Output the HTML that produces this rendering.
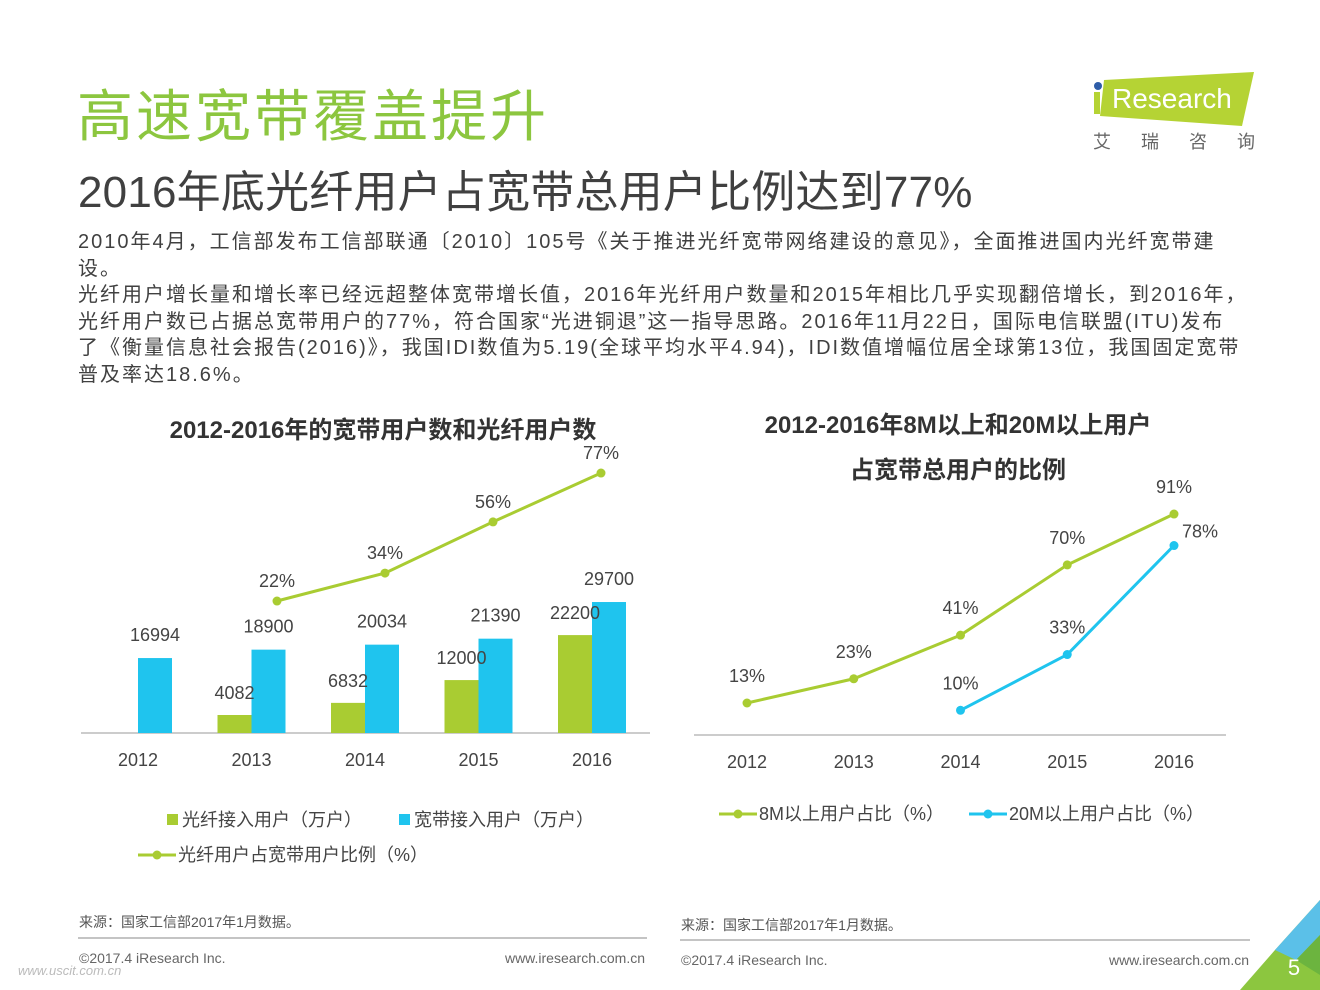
<!DOCTYPE html>
<html><head><meta charset="utf-8"><style>
body{margin:0;width:1320px;height:990px;background:#fff;overflow:hidden;font-family:"Liberation Sans","Noto Sans CJK SC",sans-serif;position:relative}
.a{position:absolute;white-space:nowrap}
</style></head><body>
<div class="a" style="left:77px;top:72px;font-size:56px;color:#8cc63f;letter-spacing:3px">高速宽带覆盖提升</div>
<div class="a" style="left:78px;top:156px;font-size:44px;color:#404040;letter-spacing:0.2px">2016年底光纤用户占宽带总用户比例达到77%</div>
<div class="a" style="left:78px;top:229px;font-size:20px;line-height:26.5px;color:#404040;letter-spacing:2px">2010年4月，工信部发布工信部联通〔2010〕105号《关于推进光纤宽带网络建设的意见》，全面推进国内光纤宽带建<br>设。<br>光纤用户增长量和增长率已经远超整体宽带增长值，2016年光纤用户数量和2015年相比几乎实现翻倍增长，到2016年，<br>光纤用户数已占据总宽带用户的77%，符合国家“光进铜退”这一指导思路。2016年11月22日，国际电信联盟(ITU)发布<br>了《衡量信息社会报告(2016)》，我国IDI数值为5.19(全球平均水平4.94)，IDI数值增幅位居全球第13位，我国固定宽带<br>普及率达18.6%。</div>
<div class="a" style="left:1092px;top:70px;width:162px;height:56px">
<svg width="162" height="56"><polygon points="12,10 162,2 150,56 8,46" fill="#b5d334"/><circle cx="6" cy="16" r="4" fill="#2e5da8"/><rect x="2" y="22" width="6" height="22" fill="#b5d334"/><text x="20" y="38" font-size="28" fill="#fff" font-family="Liberation Sans">Research</text></svg></div>
<div class="a" style="left:1093px;top:128px;font-size:18px;color:#666;letter-spacing:30px">艾瑞咨询</div>
<svg class="a" style="left:0;top:0" width="1320" height="990" id="sv">
<text x="383" y="438" font-size="24" font-weight="bold" fill="#333" text-anchor="middle">2012-2016年的宽带用户数和光纤用户数</text>
<text x="958" y="433" font-size="24" font-weight="bold" fill="#333" text-anchor="middle">2012-2016年8M以上和20M以上用户</text>
<text x="958" y="478" font-size="24" font-weight="bold" fill="#333" text-anchor="middle">占宽带总用户的比例</text>
<line x1="81" y1="733" x2="650" y2="733" stroke="#999"/>
<line x1="694" y1="735" x2="1226" y2="735" stroke="#999"/>
<rect x="167" y="814" width="11" height="11" fill="#a9cc32"/>
<text x="182" y="826" font-size="18" fill="#444">光纤接入用户（万户）</text>
<rect x="399" y="814" width="11" height="11" fill="#1fc4ee"/>
<text x="414" y="826" font-size="18" fill="#444">宽带接入用户（万户）</text>
<line x1="138" y1="855" x2="176" y2="855" stroke="#a9cc32" stroke-width="3"/><circle cx="157" cy="855" r="4.5" fill="#a9cc32"/>
<text x="178" y="861" font-size="18" fill="#444">光纤用户占宽带用户比例（%）</text>
<line x1="719" y1="814" x2="757" y2="814" stroke="#a9cc32" stroke-width="3"/><circle cx="738" cy="814" r="4.5" fill="#a9cc32"/>
<text x="759" y="820" font-size="18" fill="#444">8M以上用户占比（%）</text>
<line x1="969" y1="814" x2="1007" y2="814" stroke="#1fc4ee" stroke-width="3"/><circle cx="988" cy="814" r="4.5" fill="#1fc4ee"/>
<text x="1009" y="820" font-size="18" fill="#444">20M以上用户占比（%）</text>
<text x="79" y="927" font-size="14" fill="#555">来源：国家工信部2017年1月数据。</text>
<text x="681" y="930" font-size="14" fill="#555">来源：国家工信部2017年1月数据。</text>
<line x1="78" y1="938" x2="647" y2="938" stroke="#888"/>
<line x1="680" y1="940" x2="1250" y2="940" stroke="#888"/>
<text x="79" y="963" font-size="14" fill="#666">©2017.4 iResearch Inc.</text>
<text x="645" y="963" font-size="14" fill="#666" text-anchor="end">www.iresearch.com.cn</text>
<text x="681" y="965" font-size="14" fill="#666">©2017.4 iResearch Inc.</text>
<text x="1249" y="965" font-size="14" fill="#666" text-anchor="end">www.iresearch.com.cn</text>
<text x="18" y="975" font-size="13" fill="#bbb" font-style="italic">www.uscit.com.cn</text>
<polygon points="1320,900 1320,990 1240,990 1275,950" fill="#8cc63f"/>
<polygon points="1320,900 1275,950 1296,960 1320,935" fill="#5bc0e8"/>
<polygon points="1320,935 1296,960 1320,975" fill="#6cb43f"/>
<text x="1294" y="975" font-size="22" fill="#fff" text-anchor="middle">5</text>
</svg>
<script>
const years=["2012","2013","2014","2015","2016"];
const fiber=[null,4082,6832,12000,22200];
const broadband=[16994,18900,20034,21390,29700];
const fiberRatio=[null,22,34,56,77];
const m8=[13,23,41,70,91];
const m20=[null,null,10,33,78];
const sv=document.getElementById('sv');const NS='http://www.w3.org/2000/svg';
function mk(t,a,txt){const e=document.createElementNS(NS,t);for(const k in a)e.setAttribute(k,a[k]);if(txt!=null)e.textContent=txt;sv.appendChild(e);return e;}
const lx=i=>138+i*113.5, ly=v=>733-v*0.00441;
const lpx=i=>277+(i-1)*108, lpy=p=>652.2-p*2.327;
const rx=i=>747+i*106.75, ry=p=>734.5-p*2.423;
years.forEach((y,i)=>{
 let t=mk('text',{x:lx(i),y:766,'font-size':18,fill:'#444','text-anchor':'middle'},y);
 
 
 t=mk('text',{x:rx(i),y:768,'font-size':18,fill:'#444','text-anchor':'middle'},y);
 
 
 if(fiber[i]!=null){
  let r=mk('rect',{x:lx(i)-34,y:ly(fiber[i]),width:34,height:733-ly(fiber[i]),fill:'#a9cc32'});
  
  
 }
 let r=mk('rect',{x:lx(i),y:ly(broadband[i]),width:34,height:733-ly(broadband[i]),fill:'#1fc4ee'});
 
 
});
years.forEach((y,i)=>{
 if(fiber[i]!=null){let t=mk('text',{x:lx(i)-17,y:ly(fiber[i])-16,'font-size':18,fill:'#444','text-anchor':'middle'},fiber[i]);
 
 }
 let t=mk('text',{x:lx(i)+17,y:ly(broadband[i])-17,'font-size':18,fill:'#444','text-anchor':'middle'},broadband[i]);
 
 
});
function line(xf,yf,vals,col,name,dy,lastDx,lastDy){
 const pts=[];vals.forEach((v,i)=>{if(v!=null)pts.push([xf(i),yf(v),v]);});
 const p=mk('polyline',{points:pts.map(q=>q[0]+','+q[1]).join(' '),fill:'none',stroke:col,'stroke-width':3});
 
 
 pts.forEach((q,k)=>{const c=mk('circle',{cx:q[0],cy:q[1],r:4.5,fill:col});
 
 
 const last=k===pts.length-1&&lastDx!=null;
 const t=mk('text',{x:q[0]+(last?lastDx:0),y:q[1]+(last?lastDy:dy),'font-size':18,fill:'#444','text-anchor':'middle'},q[2]+'%');
 
 });
}
line(lpx,lpy,fiberRatio,'#a9cc32','fiber-ratio',-14);
line(rx,ry,m8,'#a9cc32','8m-ratio',-21);
line(rx,ry,m20,'#1fc4ee','20m-ratio',-21,26,-8);
</script>
</body></html>
